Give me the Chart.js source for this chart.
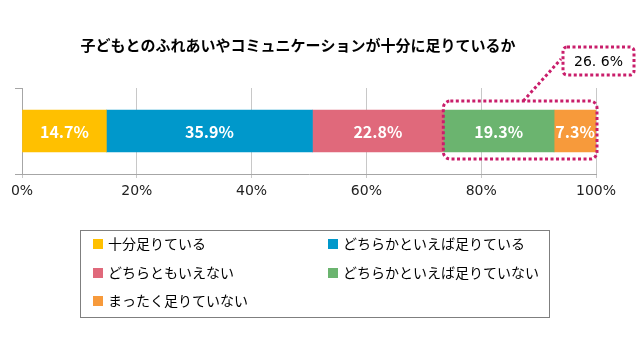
<!DOCTYPE html>
<html>
<head>
<meta charset="utf-8">
<script src="https://cdn.jsdelivr.net/npm/chart.js@4/dist/chart.umd.min.js"></script>
<style>
  html, body { margin: 0; padding: 0; background: #fff; }
  #wrap { width: 640px; height: 360px; position: relative; }
</style>
</head>
<body>
<div id="wrap"><canvas id="chart" width="640" height="360"></canvas></div>
<script>
// --- data ---
const chartTitle = '子どもとのふれあいやコミュニケーションが十分に足りているか';
const categories = [''];
const seriesLabels = ['十分足りている', 'どちらかといえば足りている', 'どちらともいえない', 'どちらかといえば足りていない', 'まったく足りていない'];
const seriesValues = [14.7, 35.9, 22.8, 19.3, 7.3];
const seriesColors = ['#FFC000', '#0098CB', '#E0697B', '#6BB46F', '#F79A3B'];
const xTicks = [0, 20, 40, 60, 80, 100];
const calloutSeries = [3, 4]; // summed in the dotted callout

const JP = '"Noto Sans CJK JP", "Noto Sans", sans-serif';
const MAGENTA = '#C91E6B';

function roundRect(ctx, x, y, w, h, r) {
    ctx.beginPath();
    ctx.moveTo(x + r, y);
    ctx.lineTo(x + w - r, y);
    ctx.arcTo(x + w, y, x + w, y + r, r);
    ctx.lineTo(x + w, y + h - r);
    ctx.arcTo(x + w, y + h, x + w - r, y + h, r);
    ctx.lineTo(x + r, y + h);
    ctx.arcTo(x, y + h, x, y + h - r, r);
    ctx.lineTo(x, y + r);
    ctx.arcTo(x, y, x + r, y, r);
    ctx.closePath();
}

// labels inside bars, callout, title and legend
const decorPlugin = {
    id: 'decor',
    afterDatasetsDraw(chart) {
        const ctx = chart.ctx;
        ctx.save();
        ctx.fillStyle = '#fff';
        ctx.font = 'bold 16px ' + JP;
        ctx.textAlign = 'center';
        ctx.textBaseline = 'middle';
        chart.data.datasets.forEach((ds, i) => {
            const bar = chart.getDatasetMeta(i).data[0];
            const cx = (bar.x + bar.base) / 2;
            ctx.fillText(ds.data[0].toFixed(1) + '%', cx, bar.y + 1);
        });
        ctx.restore();
    },
    afterDraw(chart) {
        const ctx = chart.ctx;

        // title
        ctx.save();
        ctx.fillStyle = '#000';
        ctx.font = 'bold 15px ' + JP;
        ctx.textAlign = 'center';
        ctx.textBaseline = 'middle';
        ctx.fillText(chartTitle, 298, 45);
        ctx.restore();

        // dotted callout around the last series
        const first = chart.getDatasetMeta(calloutSeries[0]).data[0];
        const last = chart.getDatasetMeta(calloutSeries[calloutSeries.length - 1]).data[0];
        const top = first.y - first.height / 2 - 9;
        const bottom = first.y + first.height / 2 + 7;
        const left = first.base;
        const right = last.x + 1;
        const sum = calloutSeries.reduce((a, i) => a + seriesValues[i], 0);

        ctx.save();
        ctx.strokeStyle = MAGENTA;
        ctx.lineWidth = 3;
        ctx.setLineDash([3, 2.5]);
        roundRect(ctx, left, top, right - left, bottom - top, 7);
        ctx.stroke();

        const bx = 563, by = 47, bw = 71, bh = 28;
        ctx.beginPath();
        ctx.moveTo(left + (right - left) * 0.52, top);
        ctx.lineTo(bx - 2, by + 12);
        ctx.stroke();

        roundRect(ctx, bx, by, bw, bh, 4);
        ctx.stroke();
        ctx.setLineDash([]);
        ctx.fillStyle = '#000';
        ctx.font = '14px "DejaVu Sans", sans-serif';
        ctx.textAlign = 'center';
        ctx.textBaseline = 'middle';
        ctx.fillText(sum.toFixed(1).replace('.', '. ') + '%', bx + bw / 2, by + bh / 2 + 1);
        ctx.restore();

        // legend box
        ctx.save();
        ctx.strokeStyle = '#7f7f7f';
        ctx.lineWidth = 1;
        ctx.strokeRect(80.5, 230.5, 469, 87);
        ctx.font = '14px ' + JP;
        ctx.textBaseline = 'middle';
        ctx.textAlign = 'left';
        const colX = [93, 328];
        const rowY = [244, 273, 301];
        chart.data.datasets.forEach((ds, i) => {
            const x = colX[i % 2];
            const y = rowY[Math.floor(i / 2)];
            ctx.fillStyle = ds.backgroundColor;
            ctx.fillRect(x, y - 5, 10, 10);
            ctx.fillStyle = '#000';
            ctx.fillText(ds.label, x + 15, y);
        });
        ctx.restore();
    }
};

const datasets = seriesLabels.map((label, i) => ({
    label: label,
    data: [seriesValues[i]],
    backgroundColor: seriesColors[i],
    borderWidth: 0,
    barThickness: 42
}));

new Chart(document.getElementById('chart'), {
    type: 'bar',
    data: { labels: categories, datasets: datasets },
    options: {
        indexAxis: 'y',
        responsive: false,
        animation: false,
        events: [],
        layout: { padding: { left: 22, right: 44, top: 88, bottom: 0 } },
        plugins: { legend: { display: false }, title: { display: false }, tooltip: { enabled: false } },
        scales: {
            x: {
                stacked: true, min: xTicks[0], max: xTicks[xTicks.length - 1],
                afterFit: s => { s.height = 186; },
                afterBuildTicks: s => { s.ticks = xTicks.map(v => ({ value: v })); },
                ticks: { callback: v => v + '%', color: '#222', font: { family: 'DejaVu Sans', size: 14 }, padding: 5, maxRotation: 0 },
                grid: { color: '#c8c8c8', tickLength: 4 },
                border: { display: true, color: '#a6a6a6' }
            },
            y: {
                stacked: true,
                afterFit: s => { s.width = 0; },
                ticks: { display: false },
                grid: { offset: true, drawOnChartArea: false, tickLength: 7, color: '#a6a6a6' },
                border: { display: true, color: '#a6a6a6' }
            }
        }
    },
    plugins: [decorPlugin]
});
</script>
</body>
</html>
